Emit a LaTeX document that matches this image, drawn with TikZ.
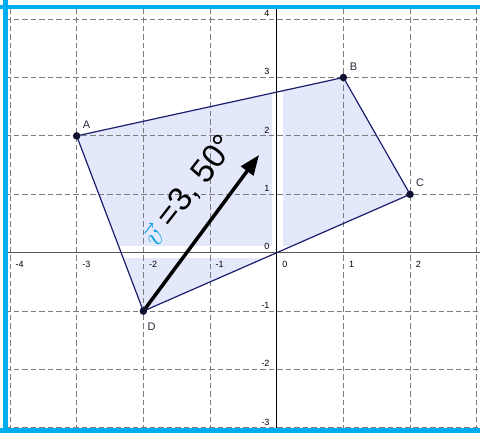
\documentclass[tikz,border=0pt]{standalone}
\usepackage{graphicx}
\usepackage{fontspec}
\setsansfont{Liberation Sans}
\usetikzlibrary{arrows.meta}
\definecolor{framecol}{RGB}{0,174,239}
\definecolor{polyfill}{RGB}{228,232,251}
\definecolor{polyedge}{RGB}{30,30,110}
\definecolor{gridgray}{RGB}{125,125,125}
\definecolor{ptcol}{RGB}{16,16,48}
\definecolor{labcol}{RGB}{40,40,60}
\definecolor{vcol}{RGB}{20,165,230}
\begin{document}
\begin{tikzpicture}[x=66.67pt,y=58.4pt,
  gridline/.style={gridgray, line width=0.9pt, dash pattern=on 5.5pt off 3pt},
  ticklab/.style={font=\sffamily\fontsize{9}{9}\selectfont, inner sep=0pt},
  ptlab/.style={font=\sffamily\fontsize{11}{11}\selectfont, text=labcol, inner sep=0pt},
  ptdot/.style={circle, fill=ptcol, inner sep=0pt, minimum size=7.5pt},
  polyline/.style={polyedge, line width=1.2pt, line join=round},
  frameline/.style={framecol}]
\useasboundingbox (-4.150,-3.087) rectangle (3.049,4.327);
\fill[white] (-4.150,-3.087) rectangle (3.049,4.327);
% points
\coordinate (cA) at (-3,2);
\coordinate (cB) at (1,3);
\coordinate (cC) at (2,1);
\coordinate (cD) at (-2,-1);
% fill
\fill[polyfill] (cA) -- (cB) -- (cC) -- (cD) -- cycle;
\begin{scope}
  \clip (cA) -- (cB) -- (cC) -- (cD) -- cycle;
  \fill[white] (-0.07,-4) rectangle (0.095,5);
  \fill[white] (-5,-0.09) rectangle (4,0.115);
\end{scope}
% grid
\foreach \x in {-4,...,3} \draw[gridline] (\x,-3.045) -- (\x,4.207);
\foreach \y in {-3,...,4} \draw[gridline] (-4.071,\y) -- (3.049,\y);
% axes
\draw[black!65, line width=0.9pt] (-4.071,0) -- (3.049,0);
\draw[black, line width=0.9pt] (0,-3.045) -- (0,4.207);
% tick labels
\foreach \x [count=\i] in {-4,...,2}
  \node[ticklab, anchor=north west] (xl\i) at ({\x+0.0825},-0.1455) {\x};
\foreach \y [count=\i] in {-3,...,4}
  \node[ticklab, anchor=south east] (yl\i) at (-0.105,{\y+0.043}) {\y};
% polygon edges
\draw[polyline] (cA) -- (cB) -- (cC) -- (cD) -- cycle;
% vector
\coordinate (vtip) at (-0.265,1.673);
\draw[line width=3.5pt, -{Triangle[length=20pt,width=15pt]}] (cD) -- (vtip);
% point dots
\node[ptdot] (pA) at (cA) {};
\node[ptdot] (pB) at (cB) {};
\node[ptdot] (pC) at (cC) {};
\node[ptdot] (pD) at (cD) {};
% point labels
\node[ptlab] (lA) at (-2.853,2.195) {A};
\node[ptlab] (lB) at (1.152,3.180) {B};
\node[ptlab] (lC) at (2.149,1.193) {C};
\node[ptlab] (lD) at (-1.878,-1.272) {D};
% vector label
\node[rotate=52, inner sep=0pt, font=\sffamily\fontsize{33}{33}\selectfont] (vlab) at (-1.31,1.05)
  {\textcolor{vcol}{\scalebox{3}{\normalsize$\vec{v}$}} =3, 50°};
% frame
\draw[frameline, line width=4.5pt] (-4.071,-3.087) -- (-4.071,4.327);
\draw[frameline, line width=4pt] (-4.150,4.207) -- (3.049,4.207);
\draw[frameline, line width=5.5pt] (-4.150,-3.045) -- (3.049,-3.045);
\end{tikzpicture}
\end{document}
